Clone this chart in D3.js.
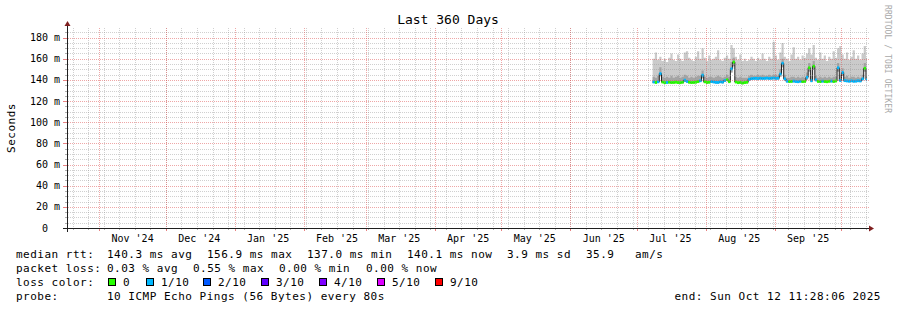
<!DOCTYPE html>
<html><head><meta charset="utf-8">
<script src="https://cdn.jsdelivr.net/npm/d3@7"></script>
<style>
html,body{margin:0;padding:0;background:#fff;}
svg{display:block;}
text{font-family:"DejaVu Sans Mono",monospace;fill:#000;white-space:pre;}
</style></head><body>
<svg id="c" width="897" height="310"></svg>
<script>
// ---------------- DATA ----------------
const chartTitle = "Last 360 Days";
const yAxisTitle = "Seconds";
const watermark = "RRDTOOL / TOBI OETIKER";
const startTime = new Date(2024, 9, 17, 11, 28, 6);
const endTime = new Date(2025, 9, 12, 11, 28, 6);
const firstDataDay = new Date(2025, 6, 8);   // daily steps from here
const yMaxMs = 189.1;
const yTicks = [0, 20, 40, 60, 80, 100, 120, 140, 160, 180];
const yTickLabels = ["0  ", "20 m", "40 m", "60 m", "80 m", "100 m", "120 m", "140 m", "160 m", "180 m"];

// median RTT (ms) per day
const medianRtt = [138.0,137.6,138.2,146.0,138.0,137.4,137.6,137.8,137.5,137.6,
  137.9,137.5,137.4,137.8,139.8,138.6,137.8,137.5,137.6,137.9,
  138.4,139.2,144.5,138.2,137.6,137.8,138.4,138.0,137.7,137.6,
  138.2,137.9,139.5,140.2,138.3,150.5,156.9,138.0,137.4,137.6,
  137.0,137.5,137.8,140.6,141.2,141.4,141.5,141.3,141.6,141.4,
  141.5,141.7,141.4,141.6,141.8,141.5,141.6,145.5,155.8,141.0,
  138.8,138.4,138.6,138.9,138.5,138.3,138.7,138.4,138.6,142.5,
  151.5,139.2,153.0,140.0,138.6,138.4,138.8,138.5,138.3,138.7,
  138.9,138.5,139.0,151.5,139.5,147.0,139.3,139.0,138.8,139.1,
  138.7,138.9,139.2,139.0,141.0,151.0,140.1];
// loss bucket per day (0 = no loss, 1 = up to 1/10)
const lossBucket = [1,0,1,1,0,0,1,0,0,0,
  0,0,0,0,1,1,0,0,0,0,
  0,1,1,0,0,0,1,1,1,1,
  1,1,1,0,0,1,0,0,0,0,
  0,0,0,1,1,1,1,1,1,1,
  1,1,1,1,1,1,1,1,1,1,
  1,0,0,1,1,1,1,0,0,1,
  0,1,0,1,0,0,1,0,0,0,
  1,0,0,1,1,1,1,1,1,1,
  1,1,1,1,1,0,1];
// lowest ping (ms)
const pingLow = [137.0,136.6,137.1,143.5,137.0,136.5,136.7,136.8,136.6,136.7,
  136.9,136.5,136.5,136.8,138.2,137.5,136.8,136.6,136.6,136.9,
  137.3,138.0,141.5,137.2,136.7,136.8,137.3,137.0,136.7,136.6,
  137.2,136.9,138.3,139.0,137.2,147.0,153.0,137.0,136.5,136.6,
  136.4,136.5,136.8,139.5,140.2,140.4,140.5,140.3,140.5,140.3,
  140.5,140.6,140.3,140.5,140.7,140.4,140.5,143.0,152.0,139.8,
  137.8,137.4,137.6,137.9,137.5,137.3,137.7,137.4,137.6,140.5,
  148.0,138.2,149.5,139.0,137.6,137.4,137.8,137.5,137.3,137.7,
  137.9,137.5,138.0,148.0,138.4,144.0,138.3,138.0,137.8,138.1,
  137.7,137.9,138.2,138.0,139.8,148.0,139.0];
// 9th of 10 sorted pings (ms)
const pingNinth = [143,142,144,152,143,142,143,142,144,142,
  143,144,142,143,145,144,142,143,142,143,
  144,144,149,143,142,143,143,142,143,144,
  143,142,143,145,143,157,161,143,142,143,
  142,142,142,144,145,144,144,145,144,145,
  144,144,145,144,145,145,144,150,160,145,
  142,142,143,143,142,143,142,143,142,147,
  156,144,158,144,142,143,142,143,142,143,
  142,143,143,156,145,151,143,144,142,143,
  143,142,143,142,145,156,144];
// highest ping (ms)
const pingHigh = [160,166,159,162,158,160,157,161,165,159,
  158,164,160,158,166,167,161,159,158,162,
  167,160,170,161,158,163,159,160,162,168,
  159,158,161,163,160,173,170,162,159,164,
  158,160,158,159,162,160,158,161,159,165,
  160,158,162,160,176,163,159,166,175,162,
  160,158,164,171,160,162,159,163,161,165,
  170,164,173,161,159,166,160,163,158,162,
  160,167,161,170,172,164,160,166,159,162,
  168,160,163,159,165,172,161];

const statLabels = ["median rtt:", "packet loss:", "loss color:", "probe:"];
const rttStats = ["140.3 ms avg", "156.9 ms max", "137.0 ms min", "140.1 ms now", "3.9 ms sd", "35.9", "am/s"];
const lossStats = ["0.03 % avg", "0.55 % max", "0.00 % min", "0.00 % now"];
const lossLabels = ["0", "1/10", "2/10", "3/10", "4/10", "5/10", "9/10"];
const probeText = "10 ICMP Echo Pings (56 Bytes) every 80s";
const endText = "end: Sun Oct 12 11:28:06 2025";

// ---------------- STYLE / LAYOUT ----------------
const lossColors = ["#26ff00", "#00b8ff", "#0059ff", "#5e00ff", "#7e00ff", "#dd00ff", "#ff0000"];
const X0 = 67, X1 = 867, Y0 = 228, Y1 = 28;
const gridCol = "rgba(143,143,143,0.42)", mgridCol = "rgba(222,79,79,0.5)";
const tickCol = "rgba(143,143,143,0.7)", mtickCol = "rgba(222,79,79,0.7)";
const axisCol = "#1f1f1f", arrowCol = "#7f1f1f";

const svg = d3.select("#c");
const x = d3.scaleTime().domain([startTime, endTime]).range([X0, X1]);
const y = d3.scaleLinear().domain([0, yMaxMs]).range([Y0, Y1]);

// data records (step after)
const days = medianRtt.map((m, i) => ({
  t: d3.timeDay.offset(firstDataDay, i),
  med: m, loss: lossBucket[i], lo: pingLow[i], p9: pingNinth[i], hi: pingHigh[i]
}));
const stepPts = days.concat([Object.assign({}, days[days.length - 1], {t: endTime})]);

// smoke
const g = svg.append("g");
g.append("path").datum(stepPts)
  .attr("d", d3.area().curve(d3.curveStepAfter).x(d => x(d.t)).y0(d => y(d.lo)).y1(d => y(d.hi)))
  .attr("fill", "#cacaca");
g.append("path").datum(stepPts)
  .attr("d", d3.area().curve(d3.curveStepAfter).x(d => x(d.t)).y0(d => y(d.lo)).y1(d => y(d.p9)))
  .attr("fill", "#a4a4a4");
// median line
g.append("path").datum(stepPts)
  .attr("d", d3.line().curve(d3.curveStepAfter).x(d => x(d.t)).y(d => y(d.med)))
  .attr("fill", "none").attr("stroke", "#202020").attr("stroke-width", 1);
// loss coloured median marks
g.selectAll("rect.med").data(days).join("rect")
  .attr("x", d => x(d.t))
  .attr("width", d => x(d3.min([d3.timeDay.offset(d.t, 1), endTime])) - x(d.t))
  .attr("y", d => y(d.med) - 1.4).attr("height", 2.8)
  .attr("fill", d => lossColors[d.loss]);

// grid (drawn over the graph like rrdtool)
const grid = svg.append("g");
const minorY = d3.range(0, yMaxMs, 5).filter(v => v % 20 !== 0);
minorY.forEach(v => {
  const yy = Math.round(y(v)) + 0.5;
  grid.append("line").attr("x1", X0 + 1).attr("x2", X1 + 2).attr("y1", yy).attr("y2", yy)
    .attr("stroke", gridCol).attr("stroke-dasharray", "1,1");
  grid.append("line").attr("x1", X0 - 2).attr("x2", X0).attr("y1", yy).attr("y2", yy).attr("stroke", tickCol);
});
const weeks = d3.timeSunday.range(startTime, endTime);
weeks.forEach(t => {
  const xx = Math.round(x(t)) + 0.5;
  grid.append("line").attr("x1", xx).attr("x2", xx).attr("y1", Y1).attr("y2", Y0)
    .attr("stroke", gridCol).attr("stroke-dasharray", "1,1");
  grid.append("line").attr("x1", xx).attr("x2", xx).attr("y1", Y0).attr("y2", Y0 + 2).attr("stroke", tickCol);
});
yTicks.forEach(v => {
  const yy = Math.round(y(v)) + 0.5;
  if (v > 0) grid.append("line").attr("x1", X0 + 1).attr("x2", X1 + 2).attr("y1", yy).attr("y2", yy)
    .attr("stroke", mgridCol).attr("stroke-dasharray", "1,1");
  grid.append("line").attr("x1", X0 - 4).attr("x2", X0).attr("y1", yy).attr("y2", yy).attr("stroke", mtickCol);
});
const months = d3.timeMonth.range(startTime, endTime);
months.forEach(t => {
  const xx = Math.round(x(t)) + 0.5;
  grid.append("line").attr("x1", xx).attr("x2", xx).attr("y1", Y1).attr("y2", Y0)
    .attr("stroke", mgridCol).attr("stroke-dasharray", "1,1");
  grid.append("line").attr("x1", xx).attr("x2", xx).attr("y1", Y0).attr("y2", Y0 + 3).attr("stroke", mtickCol);
});

// axes
const ax = svg.append("g").attr("shape-rendering", "crispEdges");
ax.append("line").attr("x1", X0 - 4).attr("x2", X1 + 4).attr("y1", Y0 + 0.5).attr("y2", Y0 + 0.5).attr("stroke", axisCol);
ax.append("line").attr("x1", X0 + 0.5).attr("x2", X0 + 0.5).attr("y1", Y0 + 4).attr("y2", Y1 - 4).attr("stroke", axisCol);
svg.append("path").attr("d", `M${X1 + 2},${Y0 - 2.5}L${X1 + 2},${Y0 + 3.5}L${X1 + 7},${Y0 + 0.5}Z`).attr("fill", arrowCol);
svg.append("path").attr("d", `M${X0 - 2.5},${Y1 - 2}L${X0 + 3.5},${Y1 - 2}L${X0 + 0.5},${Y1 - 7}Z`).attr("fill", arrowCol);

// y tick labels
svg.append("g").selectAll("text").data(yTicks).join("text")
  .attr("x", 60).attr("y", v => y(v) + 3.5).attr("text-anchor", "end")
  .style("font-size", "10px").text((v, i) => yTickLabels[i]);

// x labels: centred at month start + 15 days
const fmt = d3.timeFormat("%b '%y");
const labMonths = d3.timeMonth.range(d3.timeMonth.floor(startTime), endTime)
  .filter(t => { const c = d3.timeDay.offset(t, 15); return c > startTime && c < endTime; });
svg.append("g").selectAll("text").data(labMonths).join("text")
  .attr("x", t => x(d3.timeDay.offset(t, 15))).attr("y", 241.5).attr("text-anchor", "middle")
  .style("font-size", "10px").text(t => fmt(t));

// title
svg.append("text").attr("x", 448).attr("y", 24).attr("text-anchor", "middle")
  .style("font-size", "13px").text(chartTitle);
// y axis title
svg.append("text").attr("transform", "translate(15,128) rotate(-90)").attr("text-anchor", "middle")
  .style("font-size", "11px").style("letter-spacing", "0.5px").text(yAxisTitle);
// watermark
svg.append("text").attr("transform", "translate(885,5) rotate(90)")
  .attr("textLength", 108).attr("lengthAdjust", "spacing")
  .style("font-size", "8px").style("fill", "#a8a8a8").text(watermark);

// legend
const leg = svg.append("g").style("font-size", "11px").style("letter-spacing", "0.5px");
const rowY = [257.5, 271.5, 285.5, 299.5];
statLabels.forEach((s, i) => leg.append("text").attr("x", 16).attr("y", rowY[i]).text(s));
const rttX = [107, 207, 307, 407, 507, 586, 635];
rttStats.forEach((s, i) => leg.append("text").attr("x", rttX[i]).attr("y", rowY[0]).text(s));
const lossX = [107, 193, 279, 366];
lossStats.forEach((s, i) => leg.append("text").attr("x", lossX[i]).attr("y", rowY[1]).text(s));
const swX = [108, 146, 203, 261, 319, 377, 435];
lossLabels.forEach((s, i) => {
  leg.append("rect").attr("x", swX[i] + 0.5).attr("y", 278.5).attr("width", 7).attr("height", 7)
    .attr("fill", lossColors[i]).attr("stroke", "#000").attr("stroke-width", 1);
  leg.append("text").attr("x", swX[i] + 15).attr("y", rowY[2]).text(s);
});
leg.append("text").attr("x", 107).attr("y", rowY[3]).text(probeText);
leg.append("text").attr("x", 881).attr("y", rowY[3]).attr("text-anchor", "end").text(endText);
</script>
</body></html>
